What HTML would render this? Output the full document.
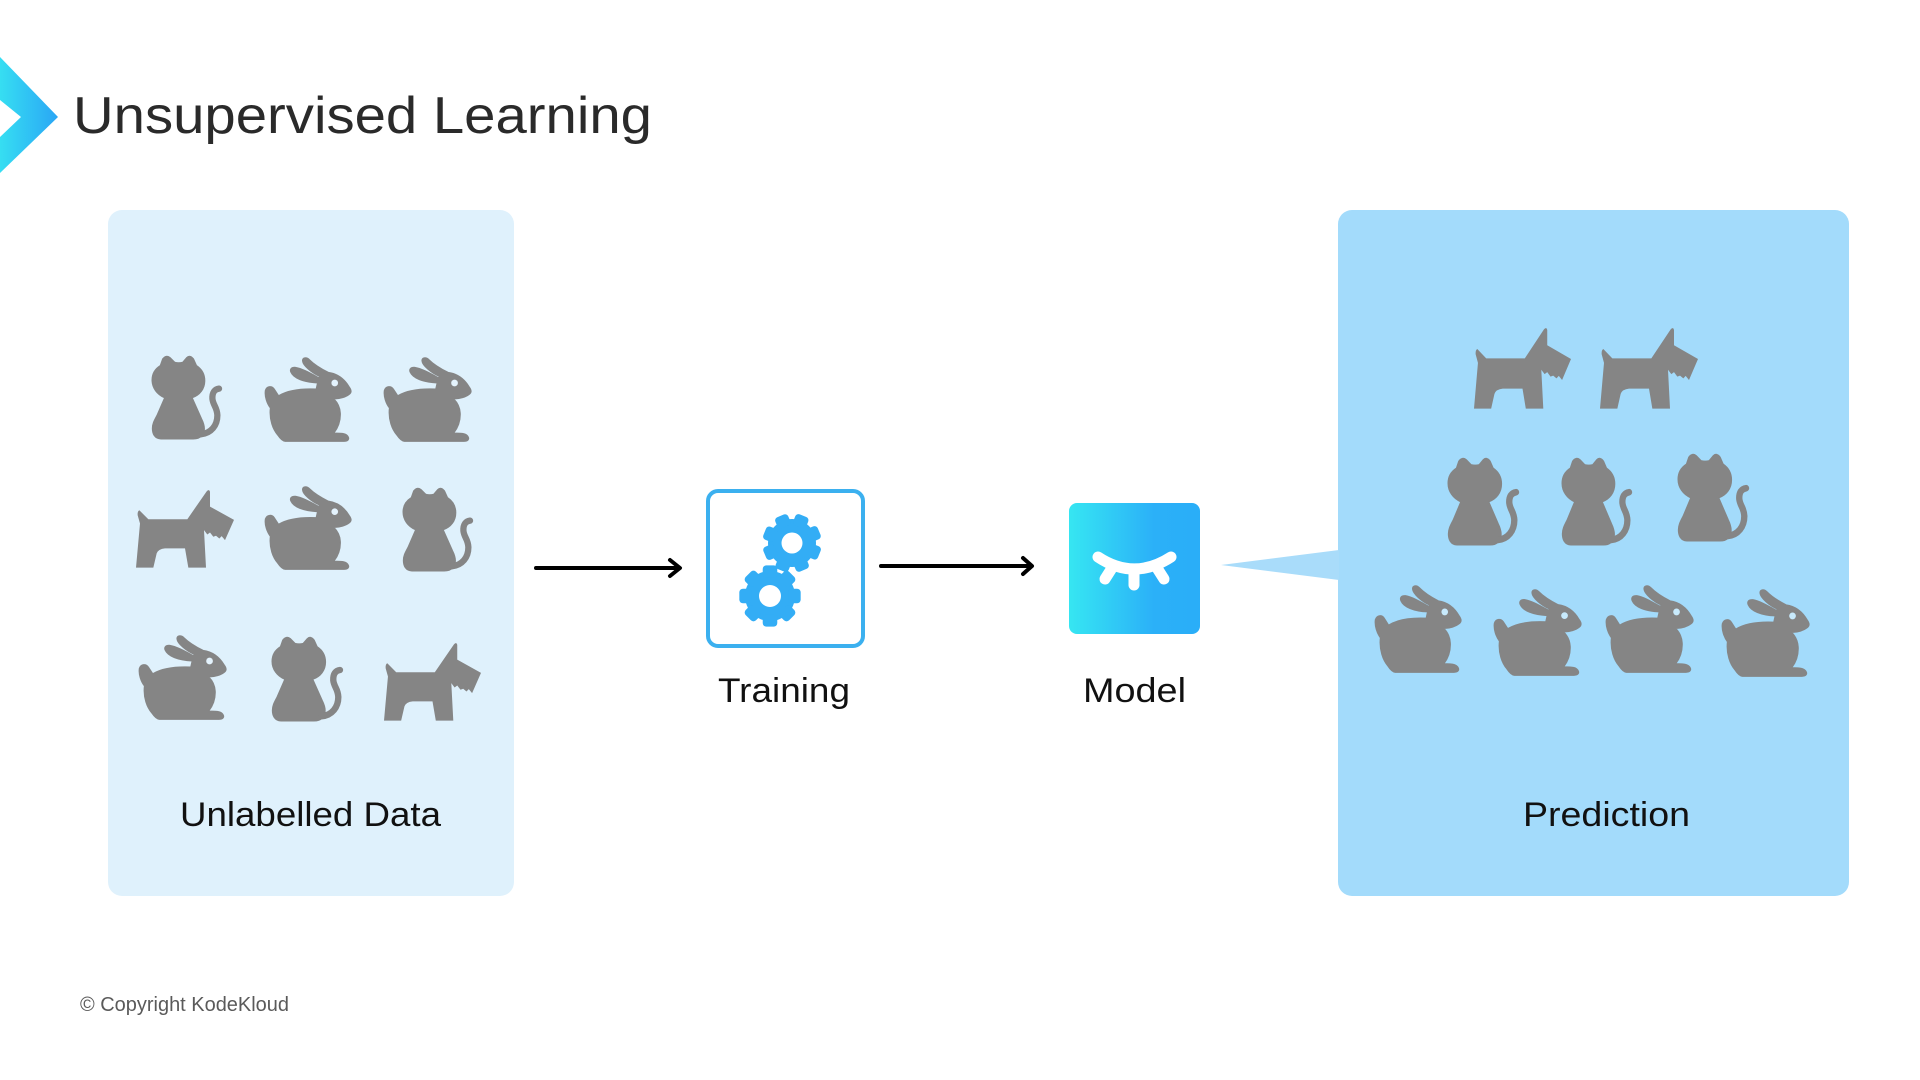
<!DOCTYPE html>
<html>
<head>
<meta charset="utf-8">
<title>Unsupervised Learning</title>
<style>
html,body{margin:0;padding:0;background:#fff;width:1920px;height:1080px;overflow:hidden}
svg{display:block}
symbol{overflow:visible}
text{font-family:"Liberation Sans",sans-serif}
</style>
</head>
<body>
<svg width="1920" height="1080" viewBox="0 0 1920 1080" xmlns="http://www.w3.org/2000/svg">
<defs>
<linearGradient id="g1" x1="0" y1="0" x2="1" y2="0"><stop offset="0" stop-color="#36def2"/><stop offset="1" stop-color="#2aa6f5"/></linearGradient>
<linearGradient id="g2" x1="0" y1="0" x2="1" y2="0"><stop offset="0" stop-color="#36e6f2"/><stop offset=".65" stop-color="#2bb0f8"/><stop offset="1" stop-color="#2aaef8"/></linearGradient>
<symbol id="cat" viewBox="65 12 212 255" preserveAspectRatio="none" overflow="visible">
<path fill="#858585" stroke="#858585" stroke-width="3" d="M97 24Q108 10 120 20L134 34Q146 37 158 34L170 20Q180 10 191 24L200 44C218 56 225 72 225 90C225 115 210 134 187 142L215 205C225 225 228 245 215 258C208 266 200 267 190 267L92 267C72 266 66 250 66 235C66 220 72 210 80 195L103 142C80 132 65 112 65 88C65 68 74 54 90 44Z"/>
<path fill="none" stroke="#858585" stroke-width="19" stroke-linecap="round" d="M212 253C245 250 263 225 263 195C262 170 250 165 248 145C247 125 255 116 268 114"/>
</symbol>
<symbol id="rabbit" viewBox="14 22 259 255" preserveAspectRatio="none" overflow="visible">
<path fill="#858585" stroke="#858585" stroke-width="3" d="M75 275L252 275C265 275 268 268 265 262C260 252 250 250 222 250C236 232 242 210 241 190C240 172 232 158 222 148C240 148 258 142 268 134C276 128 274 120 268 112C255 90 235 72 205 68C185 58 160 42 148 30C138 20 126 24 127 34C128 48 155 70 178 80L176 84C150 70 125 56 106 53C92 52 88 60 92 68C100 86 130 98 172 100L168 118C120 116 80 123 55 138L42 118C35 108 20 108 15 122C12 140 20 162 30 175C26 210 38 240 52 256C60 268 68 275 75 275Z"/>
<circle cx="224" cy="100" r="10" fill="currentColor"/>
</symbol>
<symbol id="dog" viewBox="18 14 294 235" preserveAspectRatio="none" overflow="visible">
<path fill="#858585" d="M18 248L30 115L23 90Q22 78 28 75L55 102L172 102L230 18Q238 10 240 20L240 64L312 104L285 165L275 153L268 160L258 152L250 155L240 142L232 148L222 135L228 248L175 248L165 190L105 190Q85 192 80 205L70 248Z"/>
</symbol>
<g id="t29"><rect x="-7" y="-29.5" width="14" height="12" rx="3.5" fill="#33adf5"/></g>
</defs>

<rect width="1920" height="1080" fill="#fff"/>

<path d="M0 57L58 117L0 173L0 137L21 117L0 100Z" fill="url(#g1)"/>
<text x="73" y="133" font-size="52" fill="#2a2a2a" textLength="579" lengthAdjust="spacingAndGlyphs">Unsupervised Learning</text>

<rect x="108" y="210" width="406" height="686" rx="14" fill="#dff1fc"/>
<rect x="1338" y="210" width="511" height="686" rx="14" fill="#a3dbfb"/>
<path d="M1221 565L1339 550L1339 580Z" fill="#a9dcfa"/>

<g color="#e4f3fd">
<use href="#cat" x="152" y="355" width="70" height="84"/>
<use href="#rabbit" x="265" y="357" width="86" height="85"/>
<use href="#rabbit" x="384" y="357" width="87" height="85"/>
<use href="#dog" x="136" y="490" width="98" height="78"/>
<use href="#rabbit" x="265" y="486" width="86" height="84"/>
<use href="#cat" x="403" y="487" width="70" height="84"/>
<use href="#rabbit" x="139" y="635" width="87" height="85"/>
<use href="#cat" x="272" y="636" width="71" height="85"/>
<use href="#dog" x="384" y="643" width="97" height="78"/>
</g>
<g color="#c8eafc">
<use href="#dog" x="1474" y="328" width="97" height="81"/>
<use href="#dog" x="1600" y="328" width="98" height="81"/>
<use href="#cat" x="1448" y="457" width="71" height="88"/>
<use href="#cat" x="1562" y="457" width="70" height="88"/>
<use href="#cat" x="1678" y="453" width="71" height="88"/>
<use href="#rabbit" x="1375" y="585" width="86" height="88"/>
<use href="#rabbit" x="1494" y="589" width="87" height="87"/>
<use href="#rabbit" x="1606" y="585" width="87" height="88"/>
<use href="#rabbit" x="1722" y="589" width="87" height="88"/>
</g>

<text x="180" y="826" font-size="34" fill="#111" textLength="261" lengthAdjust="spacingAndGlyphs">Unlabelled Data</text>
<text x="1523" y="826" font-size="34" fill="#111" textLength="167" lengthAdjust="spacingAndGlyphs">Prediction</text>

<path d="M536 568H679M670 560L680 568L670 576" fill="none" stroke="#000" stroke-width="4" stroke-linecap="round" stroke-linejoin="round"/>
<path d="M881 566H1031M1023 558L1032 566L1023 574" fill="none" stroke="#000" stroke-width="4" stroke-linecap="round" stroke-linejoin="round"/>

<rect x="708" y="491" width="155" height="155" rx="10" fill="#fff" stroke="#3bb0ef" stroke-width="4"/>

<g transform="translate(792 543)">
<circle r="24" fill="#33adf5"/>
<use href="#t29" transform="rotate(22)"/><use href="#t29" transform="rotate(67)"/><use href="#t29" transform="rotate(112)"/><use href="#t29" transform="rotate(157)"/><use href="#t29" transform="rotate(202)"/><use href="#t29" transform="rotate(247)"/><use href="#t29" transform="rotate(292)"/><use href="#t29" transform="rotate(337)"/>
<circle r="10.5" fill="#fff"/>
</g>
<g transform="translate(770 596)">
<circle r="25" fill="#33adf5"/>
<use href="#t29" transform="rotate(0) scale(1.04)"/><use href="#t29" transform="rotate(45) scale(1.04)"/><use href="#t29" transform="rotate(90) scale(1.04)"/><use href="#t29" transform="rotate(135) scale(1.04)"/><use href="#t29" transform="rotate(180) scale(1.04)"/><use href="#t29" transform="rotate(225) scale(1.04)"/><use href="#t29" transform="rotate(270) scale(1.04)"/><use href="#t29" transform="rotate(315) scale(1.04)"/>
<circle r="11" fill="#fff"/>
</g>

<rect x="1069" y="503" width="131" height="131" rx="8" fill="url(#g2)"/>
<g fill="none" stroke="#fff" stroke-width="11" stroke-linecap="round">
<path d="M1098 557Q1134 581 1171 557"/>
<path d="M1112 568L1105 579"/>
<path d="M1134 572V585"/>
<path d="M1157 568L1164 579"/>
</g>

<text x="718" y="702" font-size="34" fill="#111" textLength="132" lengthAdjust="spacingAndGlyphs">Training</text>
<text x="1083" y="702" font-size="34" fill="#111" textLength="103" lengthAdjust="spacingAndGlyphs">Model</text>

<text x="80" y="1011" font-size="20" fill="#5a5a5a" textLength="209" lengthAdjust="spacingAndGlyphs">© Copyright KodeKloud</text>
</svg>
</body>
</html>
